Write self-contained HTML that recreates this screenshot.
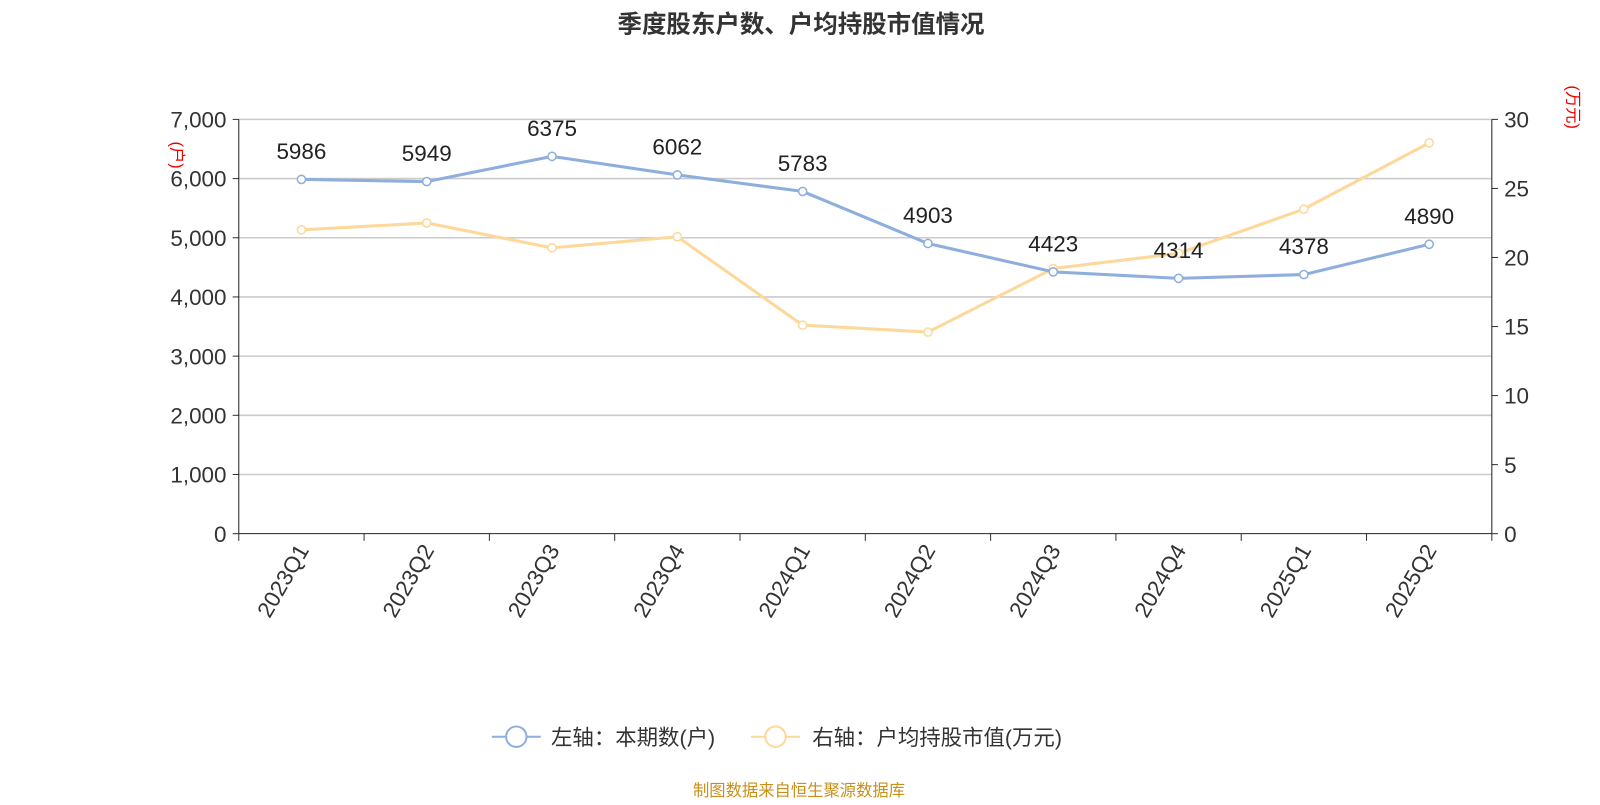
<!DOCTYPE html>
<html><head><meta charset="utf-8"><style>
body{margin:0;background:#fff;font-family:"Liberation Sans","Noto Sans CJK SC",sans-serif}
svg text{font-family:"Liberation Sans","Noto Sans CJK SC",sans-serif}
</style></head><body>
<svg id="c" width="1600" height="800" viewBox="0 0 1568 784">
<text x="785" y="32" text-anchor="middle" font-size="24" font-weight="bold" fill="#333">季度股东户数、户均持股市值情况</text>
<g id="grid"></g><g id="axes"></g><g id="series"></g>
<text transform="translate(168,152) rotate(90)" text-anchor="middle" font-size="16" fill="#e00">(户)</text>
<text transform="translate(1536,105) rotate(90)" text-anchor="middle" font-size="16" fill="#e00">(万元)</text>
<g>
<g><line x1="482" y1="722" x2="530" y2="722" stroke="#8eaedd" stroke-width="2"/><circle cx="506" cy="722" r="10" fill="#fff" stroke="#8eaedd" stroke-width="2"/><text x="540" y="730" font-size="21" fill="#333">左轴：本期数(户)</text></g>
<g><line x1="736" y1="722" x2="784" y2="722" stroke="#fdd89a" stroke-width="2"/><circle cx="760" cy="722" r="10" fill="#fff" stroke="#fdd89a" stroke-width="2"/><text x="796" y="730" font-size="21" fill="#333">右轴：户均持股市值(万元)</text></g>
</g>
<text x="783" y="780" text-anchor="middle" font-size="16" fill="#c8901a">制图数据来自恒生聚源数据库</text>
</svg>
<script>
const categories=["2023Q1","2023Q2","2023Q3","2023Q4","2024Q1","2024Q2","2024Q3","2024Q4","2025Q1","2025Q2"];
const holders=[5986,5949,6375,6062,5783,4903,4423,4314,4378,4890];
const avgValue=[22.0,22.5,20.7,21.5,15.1,14.6,19.2,20.3,23.5,28.3];
const leftTicks=[0,1000,2000,3000,4000,5000,6000,7000];
const rightTicks=[0,5,10,15,20,25,30];
const NS="http://www.w3.org/2000/svg";
const X0=234,X1=1462,Y0=523,Y1=117;
const bw=(X1-X0)/categories.length;
const xs=i=>X0+bw*(i+0.5);
const yl=v=>Y0-(v/7000)*(Y0-Y1);
const yr=v=>Y0-(v/30)*(Y0-Y1);
function mk(t,a,p){const e=document.createElementNS(NS,t);for(const k in a)e.setAttribute(k,a[k]);p.appendChild(e);return e;}
const grid=document.getElementById('grid'),axes=document.getElementById('axes'),ser=document.getElementById('series');
leftTicks.forEach(v=>{
 const y=yl(v);
 if(v>0){const g=mk('line',{x1:X0,x2:X1,y1:y,y2:y,stroke:'#ccc','stroke-width':1.5},grid);
 
 }
 mk('line',{x1:X0-6,x2:X0,y1:y,y2:y,stroke:'#333'},axes);
 const t=mk('text',{x:X0-12,y:y+8,'text-anchor':'end','font-size':22,fill:'#333'},axes);
 t.textContent=v.toLocaleString('en-US');
 
 
});
rightTicks.forEach(v=>{
 const y=yr(v);
 mk('line',{x1:X1,x2:X1+6,y1:y,y2:y,stroke:'#333'},axes);
 const t=mk('text',{x:X1+12,y:y+8,'font-size':22,fill:'#333'},axes);
 t.textContent=v;
 
 
});
mk('line',{x1:X0,x2:X0,y1:Y1,y2:Y0,stroke:'#222'},axes);
mk('line',{x1:X1,x2:X1,y1:Y1,y2:Y0,stroke:'#222'},axes);
mk('line',{x1:X0,x2:X1,y1:Y0,y2:Y0,stroke:'#222'},axes);
for(let i=0;i<=categories.length;i++){const x=X0+bw*i;mk('line',{x1:x,x2:x,y1:Y0,y2:Y0+7,stroke:'#333'},axes);}
categories.forEach((c,i)=>{
 const x=xs(i);
 const t=mk('text',{x:0,y:0,'text-anchor':'end','font-size':22,fill:'#333',transform:`translate(${x+8},${Y0+16}) rotate(-60)`},axes);
 t.textContent=c;
 
 
});
function line(vals,yf,color,name,labels){
 const p=mk('polyline',{points:vals.map((v,i)=>xs(i)+','+yf(v)).join(' '),fill:'none',stroke:color,'stroke-width':3},ser);
 
 
 vals.forEach((v,i)=>{
  const c=mk('circle',{cx:xs(i),cy:yf(v),r:4,fill:'#fff',stroke:color,'stroke-width':1.5},ser);
  
  
  if(labels){const t=mk('text',{x:xs(i),y:yf(v)-20,'text-anchor':'middle','font-size':22,fill:'#222'},ser);
  t.textContent=v;
  
  }
 });
}
line(avgValue,yr,'#fdd89a','avg-value',false);
line(holders,yl,'#8eaedd','holders',true);
</script>
</body></html>
